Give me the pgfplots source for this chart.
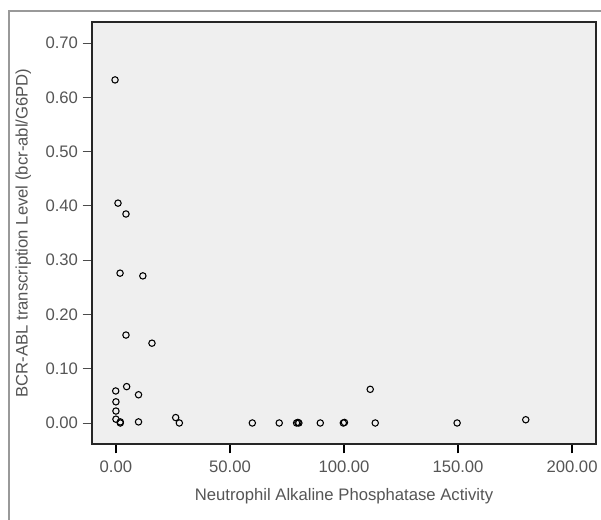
\documentclass[border=0pt]{standalone}
\usepackage{pgfplots}
\pgfplotsset{compat=1.18}
\usepackage{fontspec}
\setmainfont{Liberation Sans}
\definecolor{txt}{HTML}{555555}
\definecolor{bg}{HTML}{EFEFEF}
\begin{document}
\begin{tikzpicture}
\path[use as bounding box] (0,0) rectangle (450.75pt,390pt);
\draw[black!40, line width=1.6pt] (6.75pt,-5pt) -- (6.75pt,381.75pt) -- (460pt,381.75pt);
\begin{axis}[
    at={(69pt,57pt)}, anchor=south west,
    width=378pt, height=316.5pt, scale only axis,
    xmin=-10.5, xmax=210.5,
    ymin=-0.0387, ymax=0.7387,
    axis background/.style={fill=bg},
    axis line style={black!85, line width=1pt},
    xtick={0,50,100,150,200},
    ytick={0,0.1,0.2,0.3,0.4,0.5,0.6,0.7},
    tick align=outside,
    xtick pos=bottom, ytick pos=left,
    x tick style={black, line width=1.4pt},
    y tick style={black!70, line width=0.6pt},
    major tick length=7pt,
    xticklabel style={yshift=-2pt, /pgf/number format/.cd, fixed, fixed zerofill, precision=2},
    yticklabel style={/pgf/number format/.cd, fixed, fixed zerofill, precision=2},
    /pgf/number format/assume math mode=true,
    ticklabel style={font=\fontsize{12.5}{14}\selectfont, text=txt},
    label style={font=\fontsize{12.5}{14}\selectfont, text=txt},
    xlabel={Neutrophil Alkaline Phosphatase Activity},
    ylabel={BCR-ABL transcription Level (bcr-abl/G6PD)},
    xlabel style={yshift=-5pt},
    ylabel style={yshift=4pt},
  ]
  \addplot[only marks, mark=o, mark size=2.4pt, mark options={line width=0.8pt, black}]
  coordinates {
(-0.4,0.632)
(0.9,0.405)
(4.4,0.385)
(1.8,0.276)
(11.8,0.271)
(4.4,0.162)
(15.8,0.147)
(-0.1,0.059)
(4.7,0.067)
(9.9,0.052)
(0,0.039)
(0,0.022)
(0,0.007)
(1.9,0.002)
(1.9,0.0)
(9.9,0.002)
(26.2,0.010)
(27.8,0.0)
(59.8,0.0)
(71.6,0.0)
(79.2,0.0)
(79.8,0.001)
(80.2,0.0)
(89.6,0.0)
(99.7,0.0)
(100.2,0.001)
(111.5,0.062)
(113.7,0.0)
(149.6,0.0)
(179.7,0.006)
  };
\end{axis}
\end{tikzpicture}
\end{document}
